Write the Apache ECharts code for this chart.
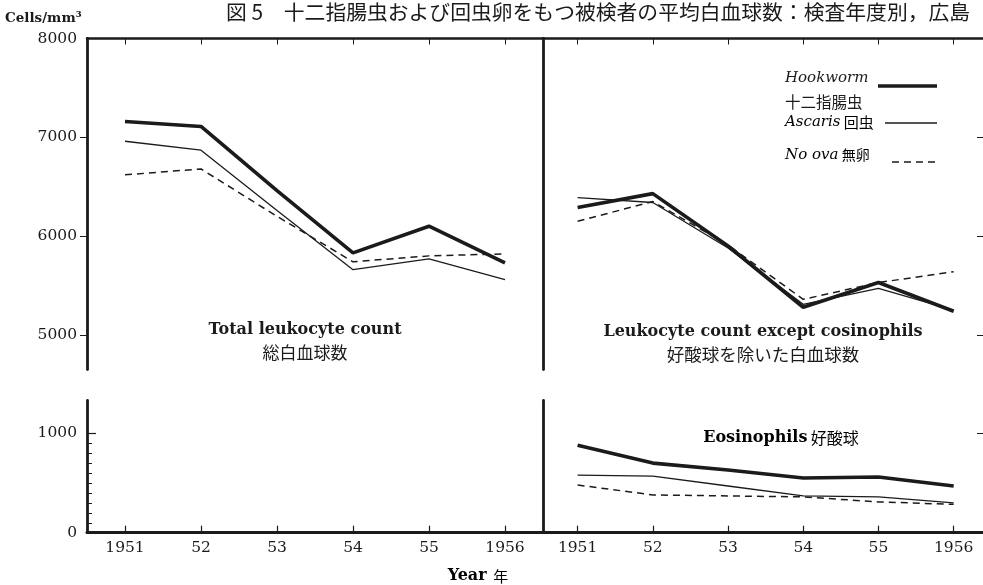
<!DOCTYPE html>
<html>
<head>
<meta charset="utf-8">
<script src="https://cdn.jsdelivr.net/npm/echarts@6/dist/echarts.min.js"></script>
<style>
  html, body { margin: 0; padding: 0; background: #ffffff; }
  #chart { width: 983px; height: 585px; }
</style>
</head>
<body>
<div id="chart"></div>
<script>
// ---- data ----
const years = [1951, 1952, 1953, 1954, 1955, 1956];
const tickLabels = ['1951', '52', '53', '54', '55', '1956'];
const topTicks = [5000, 6000, 7000];
const topLabels = [5000, 6000, 7000, 8000];
const bottomLabels = [0, 1000];
const bottomMinor = [100, 200, 300, 400, 500, 600, 700, 800, 900];

// Total leukocyte count
const totalHookworm = [7160, 7110, 6460, 5830, 6100, 5730];
const totalAscaris  = [6960, 6870, 6260, 5660, 5770, 5560];
const totalNoOva    = [6620, 6680, 6200, 5740, 5800, 5820];
// Leukocyte count except eosinophils
const exceptHookworm = [6290, 6430, 5900, 5280, 5530, 5240];
const exceptAscaris  = [6390, 6340, 5880, 5310, 5470, 5250];
const exceptNoOva    = [6150, 6350, 5910, 5360, 5530, 5640];
// Eosinophils
const eosHookworm = [880, 700, 630, 550, 560, 470];
const eosAscaris  = [580, 570, 470, 370, 360, 300];
const eosNoOva    = [480, 380, 370, 360, 310, 285];

// ---- styling ----
const ink = '#1b1b1b';
const serif = '"DejaVu Serif", "Liberation Serif", "Noto Sans CJK JP", serif';
const jp = '"Noto Sans CJK JP", sans-serif';

const pair = (vals) => years.map((y, i) => [y, vals[i]]);

const styles = {
  hook: { color: ink, width: 3.6, type: 'solid' },
  asc:  { color: ink, width: 1.3, type: 'solid' },
  none: { color: ink, width: 1.5, type: [7, 5] }
};

function line(vals, st, xi, yi) {
  return {
    type: 'line', data: pair(vals), xAxisIndex: xi, yAxisIndex: yi,
    showSymbol: false, symbol: 'none', silent: true, animation: false,
    lineStyle: { color: st.color, width: st.width, type: st.type }
  };
}

const L = 87, MID = 543, TOP = 38.5, TOPH = 331, BTOP = 400.5, BH = 132.2;

function topX(grid, min, max) {
  return {
    type: 'value', gridIndex: grid, min: min, max: max, position: 'top',
    axisLine: { show: true, lineStyle: { color: ink, width: 2.5 } },
    axisTick: { show: true, inside: true, length: 6, customValues: years, lineStyle: { color: ink, width: 1 } },
    axisLabel: { show: false }, splitLine: { show: false }
  };
}
function bottomX(grid, min, max) {
  return {
    type: 'value', gridIndex: grid, min: min, max: max, position: 'bottom',
    axisLine: { show: true, lineStyle: { color: ink, width: 3 } },
    axisTick: { show: true, inside: true, length: 7, customValues: years, lineStyle: { color: ink, width: 1.2 } },
    axisLabel: {
      show: true, customValues: years, margin: 8, color: ink, fontFamily: serif, fontSize: 15.5,
      formatter: (v) => tickLabels[years.indexOf(Math.round(v))] || ''
    },
    splitLine: { show: false }
  };
}
const plain = (v) => String(Math.round(v));

const option = {
  backgroundColor: '#ffffff',
  animation: false,
  grid: [
    { left: L, top: TOP, width: MID - L, height: TOPH },
    { left: MID, top: TOP, width: 984 - MID, height: TOPH },
    { left: L, top: BTOP, width: MID - L, height: BH },
    { left: MID, top: BTOP, width: 984 - MID, height: BH }
  ],
  xAxis: [
    topX(0, 1950.5, 1956.5),
    topX(1, 1950.54, 1956.39),
    bottomX(2, 1950.5, 1956.5),
    bottomX(3, 1950.54, 1956.39)
  ],
  yAxis: [
    { // 0: top-left
      type: 'value', gridIndex: 0, min: 4650, max: 8000, position: 'left',
      axisLine: { show: true, lineStyle: { color: ink, width: 2.8 } },
      axisTick: { show: true, inside: false, length: 7, customValues: topTicks, lineStyle: { color: ink, width: 1 } },
      axisLabel: { show: true, customValues: topLabels, margin: 10, color: ink, fontFamily: serif, fontSize: 15.5, formatter: plain },
      splitLine: { show: false }
    },
    { // 1: top-right divider
      type: 'value', gridIndex: 1, min: 4650, max: 8000, position: 'left',
      axisLine: { show: true, lineStyle: { color: ink, width: 2.8 } },
      axisTick: { show: false }, axisLabel: { show: false }, splitLine: { show: false }
    },
    { // 2: top-right right ticks
      type: 'value', gridIndex: 1, min: 4650, max: 8000, position: 'right',
      axisLine: { show: false },
      axisTick: { show: true, inside: true, length: 6, customValues: topTicks, lineStyle: { color: ink, width: 1 } },
      axisLabel: { show: false }, splitLine: { show: false }
    },
    { // 3: bottom-left
      type: 'value', gridIndex: 2, min: 0, max: 1330, position: 'left',
      axisLine: { show: true, lineStyle: { color: ink, width: 2.8 } },
      axisTick: { show: true, inside: true, length: 9, customValues: [1000], lineStyle: { color: ink, width: 1.2 } },
      axisLabel: { show: true, customValues: bottomLabels, margin: 10, color: ink, fontFamily: serif, fontSize: 15.5, formatter: plain },
      splitLine: { show: false }
    },
    { // 4: bottom-left minor ticks
      type: 'value', gridIndex: 2, min: 0, max: 1330, position: 'left',
      axisLine: { show: false },
      axisTick: { show: true, inside: true, length: 5, customValues: bottomMinor, lineStyle: { color: ink, width: 1 } },
      axisLabel: { show: false }, splitLine: { show: false }
    },
    { // 5: bottom-right divider
      type: 'value', gridIndex: 3, min: 0, max: 1330, position: 'left',
      axisLine: { show: true, lineStyle: { color: ink, width: 2.8 } },
      axisTick: { show: false }, axisLabel: { show: false }, splitLine: { show: false }
    },
    { // 6: bottom-right right ticks
      type: 'value', gridIndex: 3, min: 0, max: 1330, position: 'right',
      axisLine: { show: false },
      axisTick: { show: true, inside: true, length: 6, customValues: [1000], lineStyle: { color: ink, width: 1 } },
      axisLabel: { show: false }, splitLine: { show: false }
    }
  ],
  series: [
    line(totalHookworm, styles.hook, 0, 0),
    line(totalAscaris, styles.asc, 0, 0),
    line(totalNoOva, styles.none, 0, 0),
    line(exceptHookworm, styles.hook, 1, 1),
    line(exceptAscaris, styles.asc, 1, 1),
    line(exceptNoOva, styles.none, 1, 1),
    line(eosHookworm, styles.hook, 3, 5),
    line(eosAscaris, styles.asc, 3, 5),
    line(eosNoOva, styles.none, 3, 5)
  ],
  graphic: [
    { type: 'text', left: 226, top: 2, style: { text: '図 5　十二指腸虫および回虫卵をもつ被検者の平均白血球数：検査年度別，広島', font: '20.8px ' + jp, fill: ink } },
    { type: 'text', left: 5, top: 12, style: { text: 'Cells/mm³', font: 'bold 13.5px ' + serif, fill: ink } },
    // panel captions
    { type: 'text', x: 305, y: 330, style: { text: 'Total leukocyte count', font: 'bold 16px ' + serif, fill: ink, align: 'center', verticalAlign: 'middle' } },
    { type: 'text', x: 305, y: 353, style: { text: '総白血球数', font: '17px ' + jp, fill: ink, align: 'center', verticalAlign: 'middle' } },
    { type: 'text', x: 763, y: 332, style: { text: 'Leukocyte count except cosinophils', font: 'bold 16px ' + serif, fill: ink, align: 'center', verticalAlign: 'middle' } },
    { type: 'text', x: 763, y: 354, style: { text: '好酸球を除いた白血球数', font: '17.5px ' + jp, fill: ink, align: 'center', verticalAlign: 'middle' } },
    { type: 'text', x: 781, y: 438, style: { text: '{a|Eosinophils} {b|好酸球}', align: 'center', verticalAlign: 'middle', rich: { a: { font: 'bold 16px ' + serif, color: ink }, b: { font: '16px ' + jp, color: ink } } } },
    // legend
    { type: 'text', x: 785, y: 78, style: { text: 'Hookworm', font: 'italic 15px ' + serif, fill: ink, verticalAlign: 'middle' } },
    { type: 'line', shape: { x1: 878, y1: 86, x2: 937, y2: 86 }, style: { stroke: ink, lineWidth: 3.6 } },
    { type: 'text', x: 785, y: 102, style: { text: '十二指腸虫', font: '15.5px ' + jp, fill: ink, verticalAlign: 'middle' } },
    { type: 'text', x: 785, y: 122, style: { text: '{a|Ascaris} {b|回虫}', verticalAlign: 'middle', rich: { a: { font: 'italic 15px ' + serif, color: ink }, b: { font: '15px ' + jp, color: ink } } } },
    { type: 'line', shape: { x1: 885, y1: 123, x2: 937, y2: 123 }, style: { stroke: ink, lineWidth: 1.3 } },
    { type: 'text', x: 785, y: 155, style: { text: '{a|No ova} {b|無卵}', verticalAlign: 'middle', rich: { a: { font: 'italic 15px ' + serif, color: ink }, b: { font: '14px ' + jp, color: ink } } } },
    { type: 'line', shape: { x1: 892, y1: 162, x2: 937, y2: 162 }, style: { stroke: ink, lineWidth: 1.5, lineDash: [7, 5] } },
    // x-axis title
    { type: 'text', x: 478, y: 576, style: { text: '{a|Year}  {b|年}', align: 'center', verticalAlign: 'middle', rich: { a: { font: 'bold 16px ' + serif, color: ink }, b: { font: '15px ' + jp, color: ink } } } }
  ]
};

const chart = echarts.init(document.getElementById('chart'), null, { renderer: 'canvas' });
chart.setOption(option);
</script>
</body>
</html>
